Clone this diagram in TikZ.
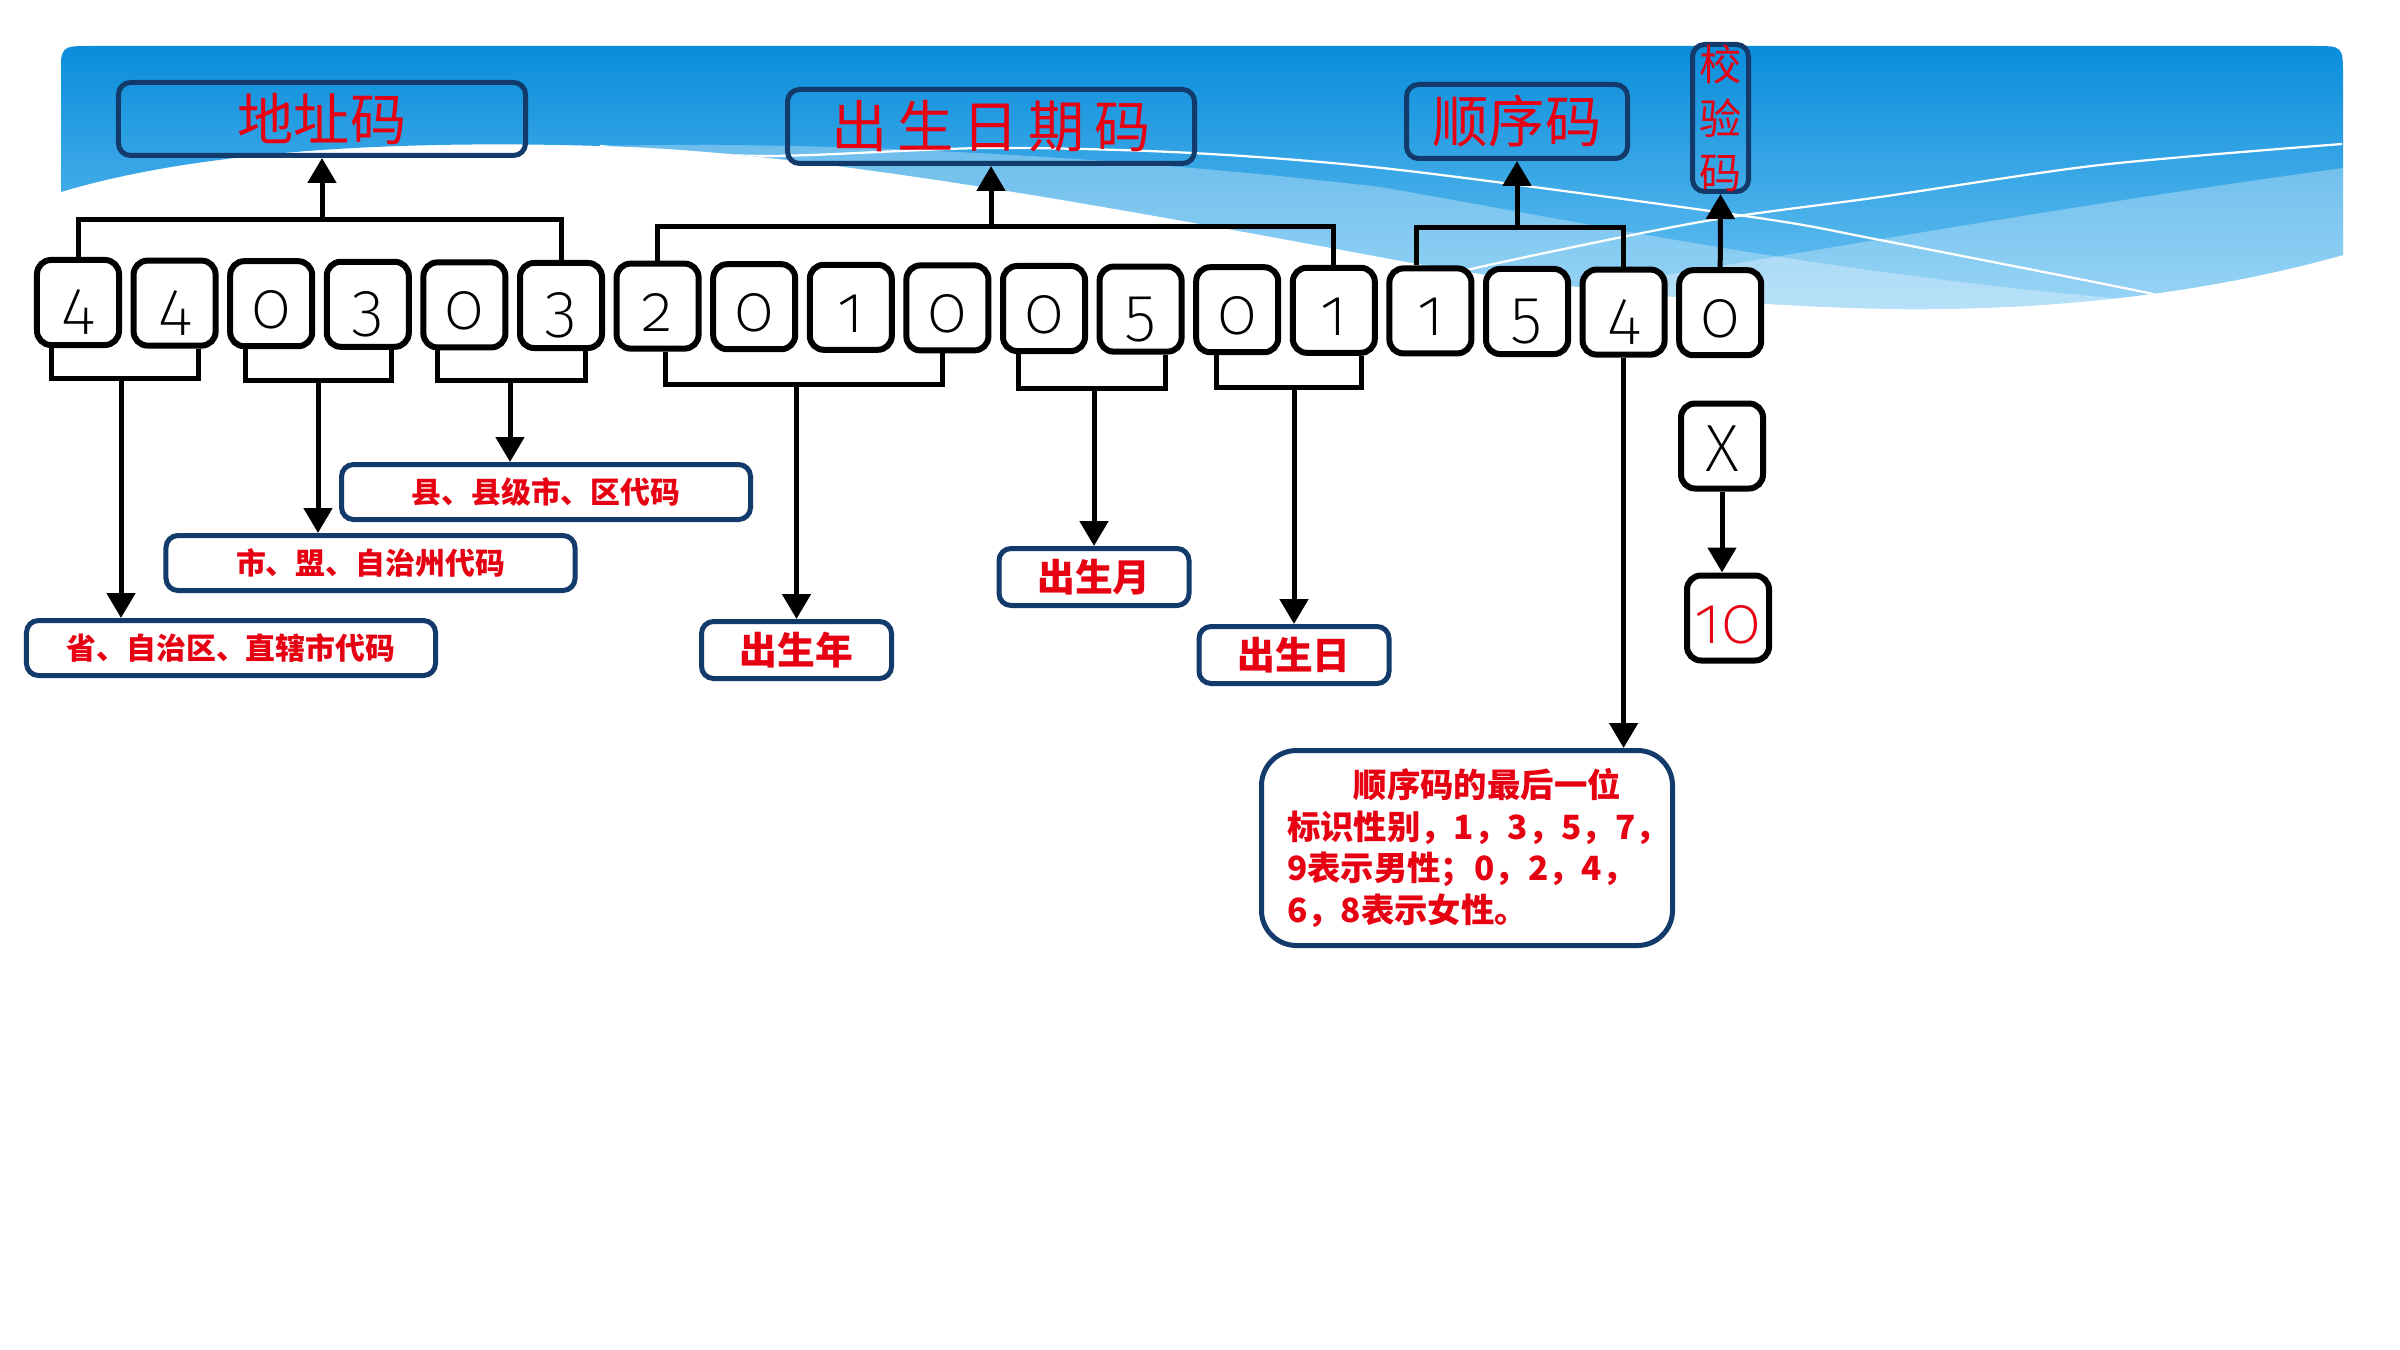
\documentclass[tikz,border=0pt]{standalone}
\usepackage{fontspec}
\usetikzlibrary{arrows.meta,calc}
\newfontfamily\cjk{Noto Sans CJK SC}
\newfontfamily\digfont{Fira Sans ExtraLight}[Numbers=OldStyle]
\definecolor{navy}{HTML}{123A6B}
\definecolor{lblred}{HTML}{E60012}
\definecolor{skytop}{HTML}{0A8DDB}
\definecolor{skymid}{HTML}{36AAEA}
\definecolor{skybot}{HTML}{6CC3F2}
\newcommand\bannerpath{(61,192) -- (61,76) .. controls (61,46) .. (91,46) -- (2313,46) .. controls (2343,46) .. (2343,76) -- (2343,255) .. controls (2200,295) and (2050,310) .. (1900,309) .. controls (1700,306) and (1500,280) .. (1380,257) .. controls (1100,205) and (800,150) .. (600,146) .. controls (400,140) and (200,150) .. (61,192) -- cycle}
\tikzset{
  digit/.style={draw=black, fill=white, line width=1.2mm, rounded corners=2.8mm, minimum width=16.4mm, minimum height=17mm, inner sep=0pt, text height=10mm, text depth=0pt, font=\digfont\fontsize{38pt}{40pt}\selectfont},
  lbl/.style={draw=navy, line width=1mm, rounded corners=2.4mm, inner sep=0pt, text=lblred},
  toplbl/.style={lbl, font=\cjk\fontsize{32pt}{36pt}\selectfont},
  sublbl/.style={lbl, fill=white, minimum width=81.8mm, minimum height=11mm, font=\cjk\bfseries\fontsize{17pt}{20pt}\selectfont},
  datelbl/.style={lbl, fill=white, minimum width=38mm, minimum height=11.4mm, font=\cjk\bfseries\fontsize{21.5pt}{24pt}\selectfont},
  conn/.style={line width=1mm, draw=black},
  arr/.style={conn, -{Triangle[length=5mm,width=5.6mm]}},
  wline/.style={draw=white, line width=0.45mm},
  band/.style={fill=white, fill opacity=0.3},
}
\begin{document}
\begin{tikzpicture}[x=0.2mm,y=-0.2mm]
\useasboundingbox (0,0) rectangle (2400,1350);
\fill[white] (0,0) rectangle (2400,1350);
% banner
\shade[top color=skytop, middle color=skymid, bottom color=skybot] \bannerpath;
\begin{scope}
\clip \bannerpath;
\fill[band] (600,146) .. controls (850,140) and (1150,160) .. (1380,187) .. controls (1600,225) and (1850,280) .. (2200,305) -- (2343,330) -- (2343,420) -- (600,420) -- cycle;
\fill[band] (1450,310) .. controls (1700,272) and (2000,215) .. (2343,168) -- (2343,420) -- (1450,420) -- cycle;
\draw[wline] plot[smooth] coordinates {(600,146) (763,156) (988,148) (1192,153) (1400,170) (1752,217) (1880,240) (2158,295) (2250,318)};
\draw[wline] plot[smooth] coordinates {(1420,285) (1480,267) (1700,222) (1880,197) (2100,165) (2342,144)};
\end{scope}
% top labels
\node[toplbl, minimum width=81.4mm, minimum height=14.6mm] (addr) at (322,119) {地址码};
\node[toplbl, minimum width=81.4mm, minimum height=14.8mm] (birth) at (991,126.5) {出\,生\,日\,期\,码};
\node[toplbl, minimum width=44.2mm, minimum height=14.8mm] (seq) at (1517,121.5) {顺序码};
\node[lbl, minimum width=11.2mm, minimum height=29.4mm, align=center, font=\cjk\fontsize{24pt}{30.6pt}\selectfont] (check) at (1720.5,118) {校\\验\\码};
% digits
\foreach \d [count=\i] in {4,4,0,3,0,3,2,0,1,0,0,5,0,1,1,5,4,0} {
  \pgfmathsetmacro\cx{78+96.6*(\i-1)}
  \pgfmathsetmacro\cy{302.5+0.6*(\i-1)}
  \node[digit] (d\i) at (\cx,\cy) {\d};
}
\node[digit] (xbox) at (1722,446) {X};
\node[digit, text=lblred] (ten) at (1728,618) {10};
% lower labels
\node[sublbl] (county) at (546,492) {县、县级市、区代码};
\node[sublbl] (city) at (370.5,563) {市、盟、自治州代码};
\node[sublbl] (prov) at (231,648) {省、自治区、直辖市代码};
\node[datelbl] (year) at (796.5,650) {出生年};
\node[datelbl] (month) at (1094,577) {出生月};
\node[datelbl] (day) at (1294,655) {出生日};
\node[lbl, fill=white, rounded corners=7mm, minimum width=82.2mm, minimum height=39mm, text width=72mm, align=left, font=\cjk\bfseries\fontsize{19pt}{23.8pt}\selectfont] (gender) at (1467,848) {\hspace*{2em}顺序码的最后一位\\标识性别，1，3，5，7，\\9表示男性；0，2，4，\\6，8表示女性。};
% top brackets
\coordinate (ta) at (addr.south |- 0,220);
\draw[conn] (d1.north) |- (ta) -| (d6.north);
\draw[arr] (ta) -- (addr.south);
\coordinate (tb) at (birth.south |- 0,227);
\draw[conn] (d7.north) |- (tb) -| (d14.north);
\draw[arr] (tb) -- (birth.south);
\coordinate (ts) at (seq.south |- 0,228);
\draw[conn] ($(d15.north)+(-14,0)$) |- (ts) -| (d17.north);
\draw[arr] (ts) -- (seq.south);
\draw[arr] (d18.north) -- (check.south);
% bottom brackets
\coordinate (ba) at (121,378);
\draw[conn] ($(d1.south)+(-27,0)$) |- (ba) -| ($(d2.south)+(24,0)$);
\draw[arr] (ba) -- (ba |- prov.north);
\coordinate (bc) at (318,380);
\draw[conn] ($(d3.south)+(-26,0)$) |- (bc) -| ($(d4.south)+(24,0)$);
\draw[arr] (bc) -- (bc |- city.north);
\coordinate (bd) at (510,380);
\draw[conn] ($(d5.south)+(-27,0)$) |- (bd) -| ($(d6.south)+(24,0)$);
\draw[arr] (bd) -- (bd |- county.north);
\coordinate (be) at (year.north |- 0,384);
\draw[conn] ($(d7.south)+(8,0)$) |- (be) -| ($(d10.south)+(-5,0)$);
\draw[arr] (be) -- (year.north);
\coordinate (bf) at (month.north |- 0,388);
\draw[conn] ($(d11.south)+(-26,0)$) |- (bf) -| ($(d12.south)+(25,0)$);
\draw[arr] (bf) -- (month.north);
\coordinate (bg) at (day.north |- 0,387);
\draw[conn] ($(d13.south)+(-21,0)$) |- (bg) -| ($(d14.south)+(28,0)$);
\draw[arr] (bg) -- (day.north);
\draw[arr] (d17.south) -- (d17.south |- gender.north);
\draw[arr] (xbox.south) -- (xbox.south |- ten.north);
\end{tikzpicture}
\end{document}
